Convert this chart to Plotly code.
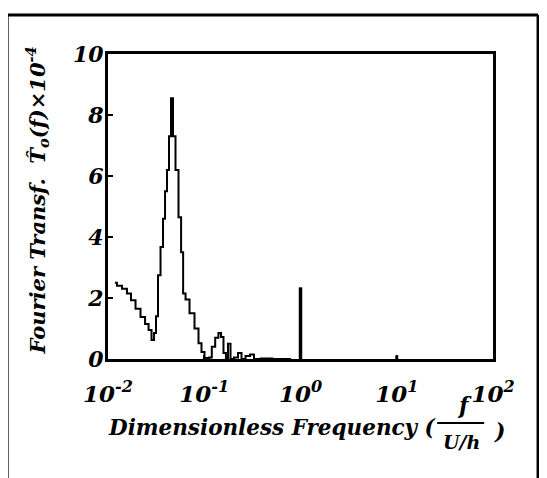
import plotly.graph_objects as go

# Spectrum (dimensionless frequency, amplitude x1e-4)
freq = [0.0118, 0.0130, 0.0150, 0.0165, 0.0182, 0.0205, 0.0231, 0.0255, 0.0273, 0.0294,
        0.0308, 0.0323, 0.0339, 0.0364, 0.0382, 0.0401, 0.0420, 0.0441, 0.0462, 0.0485,
        0.0521, 0.0560, 0.0590, 0.0617, 0.0662, 0.0746, 0.0841, 0.0903, 0.0971, 0.1043,
        0.1100, 0.1148, 0.1250, 0.1350, 0.1459, 0.153, 0.164, 0.172, 0.181, 0.194,
        0.214, 0.235, 0.253, 0.285, 0.313, 0.345, 0.43, 0.6, 0.8]
amp = [2.5, 2.4, 2.3, 2.15, 1.93, 1.65, 1.38, 1.15, 0.95, 0.62,
       0.85, 1.4, 2.75, 3.67, 4.6, 5.5, 6.2, 7.3, 8.55, 7.3,
       6.2, 4.65, 3.5, 2.15, 1.95, 1.5, 1.0, 0.52, 0.23, 0.03,
       0.0, 0.05, 0.4, 0.7, 0.85, 0.72, 0.2, 0.0, 0.5, 0.0,
       0.05, 0.2, 0.0, 0.1, 0.15, 0.0, 0.02, 0.0, 0.0]

# Discrete forcing lines
spike_freq = [1.0, 10.0]
spike_amp = [2.35, 0.12]
spike_width = [3.5, 3]

xtick_vals = [0.01, 0.1, 1, 10, 100]
xtick_text = ["10<sup>-2</sup>", "10<sup>-1</sup>", "10<sup>0</sup>", "10<sup>1</sup>", "10<sup>2</sup>"]
ytick_vals = [0, 2, 4, 6, 8, 10]

FONT = "DejaVu Serif"

fig = go.Figure()
fig.add_trace(go.Scatter(x=freq, y=amp, mode="lines",
                         line=dict(color="black", width=2, shape="hvh"),
                         showlegend=False))
for f, a, w in zip(spike_freq, spike_amp, spike_width):
    fig.add_trace(go.Scatter(x=[f, f], y=[0, a], mode="lines",
                             line=dict(color="black", width=w), showlegend=False))

fig.update_layout(
    width=539, height=470,
    margin=dict(l=100, r=54, t=46, b=119),
    paper_bgcolor="white", plot_bgcolor="white",
    font=dict(family=FONT, color="black"),
)
fig.update_xaxes(
    type="log", range=[-2, 2], automargin=False,
    tickvals=xtick_vals, ticktext=xtick_text,
    ticks="inside", ticklen=4, tickwidth=2, tickcolor="black",
    showgrid=False, zeroline=False,
    showline=True, linewidth=3, linecolor="black", mirror=True,
    tickfont=dict(family=FONT, size=23, style="italic", weight="bold"),
    ticklabelstandoff=12,
)
fig.update_yaxes(
    range=[0, 10], tickvals=ytick_vals, automargin=False,
    ticks="inside", ticklen=5, tickwidth=2, tickcolor="black",
    showgrid=False, zeroline=False,
    showline=True, linewidth=3, linecolor="black", mirror=True,
    tickfont=dict(family=FONT, size=22, style="italic", weight="bold"),
    ticklabelstandoff=-3,
)

afont = dict(family=FONT, size=21.5, style="italic", weight="bold", color="black")
# y-axis title
fig.add_annotation(text="Fourier Transf.  T\u0302<sub>o</sub>(f)×10<sup>-4</sup>",
                   xref="paper", yref="paper", x=-0.184, y=0.52,
                   xanchor="center", yanchor="middle", textangle=-90,
                   showarrow=False, font=dict(afont, size=21))
# x-axis title with fraction
fig.add_annotation(text="Dimensionless Frequency (", xref="paper", yref="paper",
                   x=0.857, y=-0.226, xanchor="right", yanchor="middle",
                   showarrow=False, font=afont)
fig.add_annotation(text="f", xref="paper", yref="paper",
                   x=0.927, y=-0.151, xanchor="center", yanchor="middle",
                   showarrow=False, font=dict(afont, size=22))
fig.add_annotation(text="U/h", xref="paper", yref="paper",
                   x=0.917, y=-0.272, xanchor="center", yanchor="middle",
                   showarrow=False, font=dict(afont, size=19))
fig.add_annotation(text=")", xref="paper", yref="paper",
                   x=1.016, y=-0.236, xanchor="center", yanchor="middle",
                   showarrow=False, font=dict(afont, size=22))
fig.add_shape(type="line", xref="paper", yref="paper",
              x0=0.855, x1=0.977, y0=-0.210, y1=-0.210,
              line=dict(color="black", width=2))
# outer frame (drawn as separate edges)
frame_lines = [(-0.262, 1.128, 1.117, 1.128),
               (-0.262, 1.128, -0.262, -0.45),
               (1.117, 1.128, 1.117, -0.45)]
for x0, y0, x1, y1 in frame_lines:
    fig.add_shape(type="line", xref="paper", yref="paper",
                  x0=x0, y0=y0, x1=x1, y1=y1,
                  line=dict(color="black", width=3), layer="below")

fig.write_html("out.html")
